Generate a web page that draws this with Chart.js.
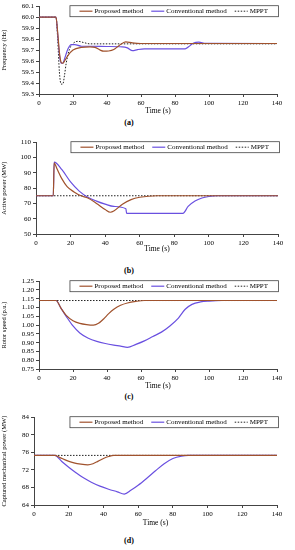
<!DOCTYPE html>
<html>
<head>
<meta charset="utf-8">
<script src="https://cdn.jsdelivr.net/npm/chart.js@4.4.1/dist/chart.umd.min.js"></script>
<style>
  body { margin: 0; background: #fff; }
  #page { position: relative; width: 295px; height: 550px; }
  .panel { position: absolute; left: 0; width: 295px; }
  .tag { position: absolute; left: 109px; width: 40px; text-align: center;
         font: bold 8px "Liberation Serif", serif; color: #000; }
</style>
</head>
<body>
<div id="page">
  <div class="panel" style="top:0px;height:116px"><canvas id="chartA"></canvas></div>
  <div class="tag" style="top:118px">(a)</div>
  <div class="panel" style="top:136px;height:118px"><canvas id="chartB"></canvas></div>
  <div class="tag" style="top:266px">(b)</div>
  <div class="panel" style="top:275px;height:116px"><canvas id="chartC"></canvas></div>
  <div class="tag" style="top:392px">(c)</div>
  <div class="panel" style="top:411px;height:117px"><canvas id="chartD"></canvas></div>
  <div class="tag" style="top:536px">(d)</div>
</div>
<script>
// shared x ticks
const timeTicks = [0, 20, 40, 60, 80, 100, 120, 140];
const seriesNames = ['Proposed method', 'Conventional method', 'MPPT'];

// (a) frequency
const freqTicks = [59.3, 59.4, 59.5, 59.6, 59.7, 59.8, 59.9, 60.0, 60.1];
const freqPropT = [0, 10, 11, 12, 13, 14, 15, 17, 20, 25, 30, 33, 36, 38, 41, 44, 47, 51, 55, 60, 140];
const freqPropV = [60.0, 60.0, 59.86, 59.68, 59.59, 59.58, 59.6, 59.65, 59.7, 59.725, 59.73, 59.725, 59.7, 59.69, 59.692, 59.705, 59.74, 59.775, 59.765, 59.76, 59.76];
const freqConvT = [0, 10, 11, 12, 13, 14, 15, 17, 19, 21, 25, 30, 40, 49, 52, 55, 58, 62, 86, 88, 91, 94, 98, 140];
const freqConvV = [60.0, 60.0, 59.84, 59.66, 59.58, 59.58, 59.62, 59.71, 59.75, 59.75, 59.735, 59.735, 59.733, 59.73, 59.72, 59.695, 59.705, 59.712, 59.712, 59.73, 59.765, 59.772, 59.762, 59.76];
const freqMpptT = [0, 10, 11, 12, 13, 14, 15, 16, 18, 20, 23, 26, 30, 140];
const freqMpptV = [60.0, 60.0, 59.8, 59.5, 59.39, 59.39, 59.47, 59.58, 59.71, 59.76, 59.78, 59.77, 59.757, 59.757];

// (b) active power
const powTicks = [50, 60, 70, 80, 90, 100, 110];
const powPropT = [0, 10, 10.5, 12, 15, 18, 22, 26, 30, 35, 40, 43, 45, 50, 55, 60, 70, 140];
const powPropV = [75, 75, 96.5, 93, 86, 81, 77.5, 75, 73.5, 70, 66, 64.2, 65, 69.5, 72.5, 74, 75, 75];
const powConvT = [0, 10, 10.5, 15, 20, 25, 30, 35, 40, 45, 52, 52.4, 85, 88, 92, 96, 100, 105, 140];
const powConvV = [75, 75, 97, 92, 84, 78, 74, 71.5, 69.5, 68, 66.5, 63.5, 63.5, 68, 71.5, 73.5, 74.5, 75, 75];
const powMpptT = [0, 140];
const powMpptV = [75, 75];

// (c) rotor speed
const spdTicks = [0.75, 0.80, 0.85, 0.90, 0.95, 1.00, 1.05, 1.10, 1.15, 1.20, 1.25];
const spdPropT = [0, 10, 13, 16, 20, 24, 28, 32, 35, 38, 41, 44, 48, 52, 57, 62, 140];
const spdPropV = [1.14, 1.14, 1.095, 1.055, 1.025, 1.01, 1.003, 1.0, 1.01, 1.035, 1.065, 1.09, 1.113, 1.126, 1.135, 1.14, 1.14];
const spdConvT = [0, 10, 13, 16, 20, 24, 29, 34, 39, 44, 48, 52, 57, 62, 67, 72, 77, 82, 86, 90, 95, 100, 108, 140];
const spdConvV = [1.14, 1.14, 1.095, 1.05, 0.995, 0.955, 0.925, 0.907, 0.895, 0.886, 0.88, 0.873, 0.89, 0.91, 0.935, 0.96, 0.995, 1.04, 1.09, 1.118, 1.132, 1.137, 1.14, 1.14];
const spdMpptT = [0, 140];
const spdMpptV = [1.14, 1.14];

// (d) captured mechanical power
const mechTicks = [64, 68, 72, 76, 80, 84];
const mechPropT = [0, 12, 15, 19, 23, 27, 31, 34, 37, 40, 43, 46, 140];
const mechPropV = [75.3, 75.3, 74.8, 74.1, 73.6, 73.3, 73.15, 73.4, 74.0, 74.6, 75.05, 75.3, 75.3];
const mechConvT = [0, 12, 16, 20, 24, 28, 33, 38, 43, 48, 52, 56, 60, 65, 70, 75, 80, 85, 89, 140];
const mechConvV = [75.3, 75.3, 73.9, 72.6, 71.4, 70.3, 69.2, 68.3, 67.6, 67.0, 66.5, 67.4, 68.5, 70.1, 71.8, 73.4, 74.6, 75.15, 75.3, 75.3];
const mechMpptT = [0, 140];
const mechMpptV = [75.3, 75.3];

const FONT = '"Liberation Serif", "Times New Roman", serif';
const colors = ['#a0522d', '#6a50e0', '#222'];

function pts(t, v) {
    return t.map((x, i) => ({ x: x, y: v[i] }));
}

// legend box drawn inside the plot, top right
const boxLegend = {
    id: 'boxLegend',
    afterDraw(chart) {
        const ctx = chart.ctx;
        const area = chart.chartArea;
        ctx.save();
        ctx.font = '7px ' + FONT;
        const pad = 10, sample = 13, gap = 2, itemGap = 8;
        let total = pad * 2;
        const widths = chart.data.datasets.map(d => ctx.measureText(d.label).width);
        widths.forEach((w, i) => { total += sample + gap + w + (i < widths.length - 1 ? itemGap : 0); });
        const right = area.right + 1;
        const left = right - total;
        const top = area.top - 1;
        const h = 11;
        ctx.fillStyle = '#fff';
        ctx.fillRect(left, top, total, h);
        ctx.strokeStyle = '#444';
        ctx.lineWidth = 0.8;
        ctx.strokeRect(left + 0.5, top + 0.5, total, h);
        let x = left + pad;
        const cy = top + h / 2 + 0.5;
        chart.data.datasets.forEach((d, i) => {
            ctx.strokeStyle = d.borderColor;
            ctx.lineWidth = d.borderWidth;
            ctx.setLineDash(d.borderDash || []);
            ctx.beginPath();
            ctx.moveTo(x, cy);
            ctx.lineTo(x + sample, cy);
            ctx.stroke();
            ctx.setLineDash([]);
            ctx.fillStyle = '#000';
            ctx.textBaseline = 'middle';
            ctx.fillText(d.label, x + sample + gap, cy);
            x += sample + gap + widths[i] + itemGap;
        });
        ctx.restore();
    }
};

function makeChart(id, opts) {
    const ctx = document.getElementById(id).getContext('2d');
    return new Chart(ctx, {
        type: 'line',
        data: {
            datasets: [{
                label: seriesNames[0],
                data: pts(opts.prop[0], opts.prop[1]),
                borderColor: colors[0],
                borderWidth: 1.2
            }, {
                label: seriesNames[1],
                data: pts(opts.conv[0], opts.conv[1]),
                borderColor: colors[1],
                borderWidth: 1.2
            }, {
                label: seriesNames[2],
                data: pts(opts.mppt[0], opts.mppt[1]),
                borderColor: colors[2],
                borderWidth: 1,
                borderDash: [1.5, 1.5]
            }]
        },
        options: {
            responsive: true,
            maintainAspectRatio: false,
            animation: false,
            layout: { padding: { top: 6, right: opts.right, left: 0, bottom: 0 } },
            elements: {
                point: { radius: 0 },
                line: { cubicInterpolationMode: 'monotone', fill: false }
            },
            plugins: {
                legend: { display: false },
                tooltip: { enabled: false }
            },
            scales: {
                x: {
                    type: 'linear',
                    min: 0,
                    max: 140,
                    afterBuildTicks: s => { s.ticks = timeTicks.map(v => ({ value: v })); },
                    afterFit: s => { s.height = opts.xh; },
                    grid: { drawOnChartArea: false, tickLength: 3, color: '#444' },
                    border: { color: '#444' },
                    ticks: { color: '#000', padding: 2, maxRotation: 0, autoSkip: false, font: { family: FONT, size: 7 } },
                    title: { display: true, text: 'Time (s)', color: '#000', padding: 0, font: { family: FONT, size: 7.5 } }
                },
                y: {
                    type: 'linear',
                    min: opts.ticks[0],
                    max: opts.ticks[opts.ticks.length - 1],
                    afterBuildTicks: s => { s.ticks = opts.ticks.map(v => ({ value: v })); },
                    afterFit: s => { s.width = opts.yw; },
                    grid: { drawOnChartArea: false, tickLength: 3, color: '#444' },
                    border: { color: '#444' },
                    ticks: {
                        color: '#000', padding: 2, autoSkip: false,
                        font: { family: FONT, size: 7 },
                        callback: v => v.toFixed(opts.dec)
                    },
                    title: { display: true, text: opts.yTitle, color: '#000', padding: 0, font: { family: FONT, size: 6.5 } }
                }
            }
        },
        plugins: [boxLegend]
    });
}

makeChart('chartA', {
    prop: [freqPropT, freqPropV], conv: [freqConvT, freqConvV], mppt: [freqMpptT, freqMpptV],
    ticks: freqTicks, dec: 1, yTitle: 'Frequency (Hz)', yw: 39, right: 18, xh: 22
});
makeChart('chartB', {
    prop: [powPropT, powPropV], conv: [powConvT, powConvV], mppt: [powMpptT, powMpptV],
    ticks: powTicks, dec: 0, yTitle: 'Active power (MW)', yw: 36, right: 17, xh: 20
});
makeChart('chartC', {
    prop: [spdPropT, spdPropV], conv: [spdConvT, spdConvV], mppt: [spdMpptT, spdMpptV],
    ticks: spdTicks, dec: 2, yTitle: 'Rotor speed (p.u.)', yw: 39, right: 18, xh: 22
});
makeChart('chartD', {
    prop: [mechPropT, mechPropV], conv: [mechConvT, mechConvV], mppt: [mechMpptT, mechMpptV],
    ticks: mechTicks, dec: 0, yTitle: 'Captured mechanical power (MW)', yw: 34, right: 18, xh: 23
});
</script>
</body>
</html>
